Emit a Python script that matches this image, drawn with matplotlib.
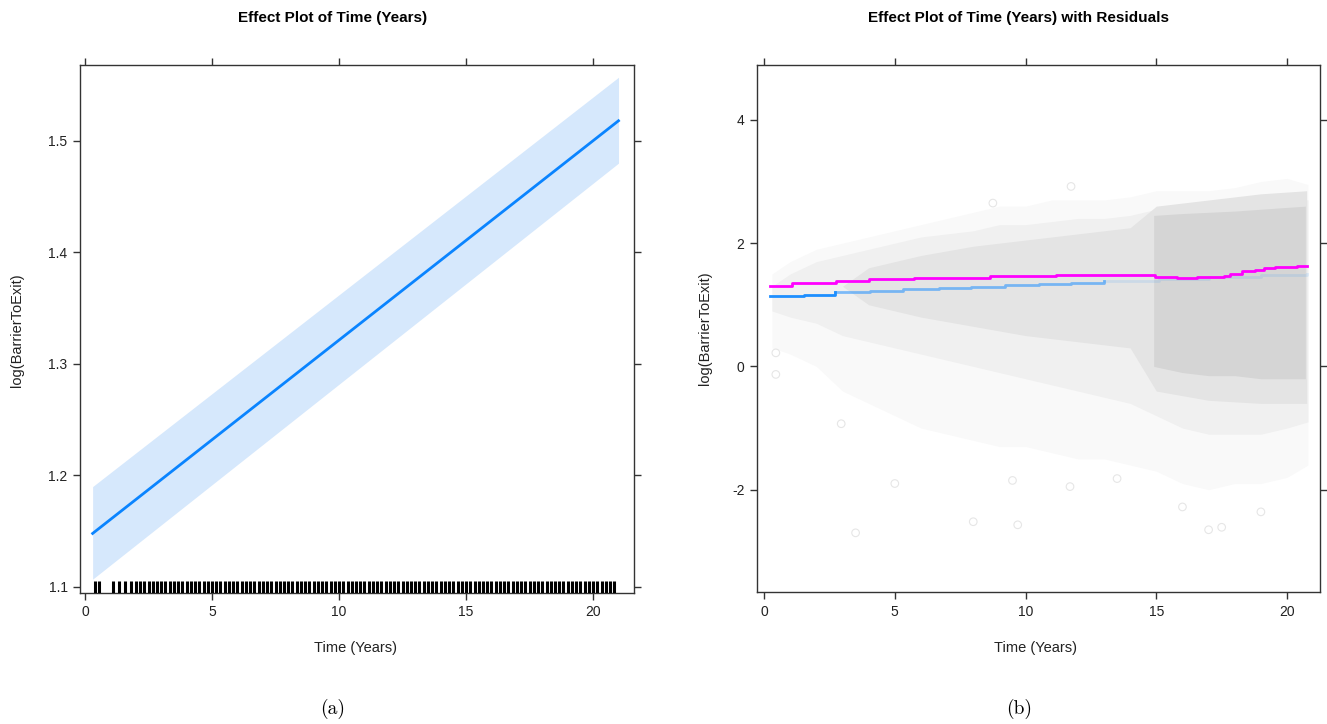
import numpy as np
import matplotlib
matplotlib.use('Agg')
import matplotlib.pyplot as plt
import matplotlib.ticker as tic

plt.rcParams['font.family'] = ['Liberation Sans', 'DejaVu Sans']
plt.rcParams['axes.unicode_minus'] = False

# panel (a): effect line with confidence band
eff_t = [0.3, 21.0]
eff_fit = [1.148, 1.518]
eff_lo = [1.107, 1.480]
eff_hi = [1.190, 1.557]
rug_early = [0.41, 0.57, 1.09, 1.33, 1.57, 1.81]
rug_grid = np.arange(2.0, 20.98, 1 / 6)  # observation times (bi-monthly grid)
rug_times = list(rug_early) + list(rug_grid)

# panel (b): residual cloud envelopes
cloud_t = [0.3, 1, 2, 3, 4, 5, 6, 7, 8, 9, 10, 11, 12, 13, 14, 15, 16, 17, 18, 19, 20, 20.8]
outer_hi = [1.5, 1.7, 1.9, 2.0, 2.1, 2.2, 2.3, 2.4, 2.5, 2.6, 2.6, 2.7, 2.7, 2.7, 2.75, 2.85, 2.85, 2.85, 2.9, 3.0, 3.05, 2.95]
outer_lo = [0.3, 0.2, 0.0, -0.4, -0.6, -0.8, -1.0, -1.1, -1.2, -1.3, -1.3, -1.4, -1.5, -1.5, -1.6, -1.7, -1.9, -2.0, -1.9, -1.9, -1.8, -1.6]
mid_hi = [1.3, 1.5, 1.7, 1.8, 1.9, 2.0, 2.1, 2.15, 2.2, 2.3, 2.3, 2.35, 2.4, 2.4, 2.45, 2.55, 2.6, 2.6, 2.65, 2.7, 2.75, 2.7]
mid_lo = [0.9, 0.8, 0.7, 0.5, 0.4, 0.3, 0.2, 0.1, 0.0, -0.1, -0.2, -0.3, -0.4, -0.5, -0.6, -0.8, -1.0, -1.1, -1.1, -1.1, -1.0, -0.9]
inner_t = [3, 4, 6, 8, 10, 12, 14, 15, 17, 19, 20.75]
inner_hi = [1.3, 1.6, 1.8, 1.95, 2.05, 2.15, 2.25, 2.6, 2.7, 2.8, 2.85]
inner_lo = [1.3, 1.0, 0.8, 0.65, 0.5, 0.4, 0.3, -0.4, -0.55, -0.6, -0.6]
core_t = [14.9, 16, 17, 18, 19, 20, 20.7]
core_hi = [2.45, 2.48, 2.5, 2.52, 2.55, 2.58, 2.6]
core_lo = [0.0, -0.1, -0.15, -0.15, -0.2, -0.2, -0.2]
out_t = [3.5, 5.0, 8.0, 9.7, 9.5, 2.95, 0.45, 0.45, 17.0, 17.5, 19.0, 16.0, 11.7, 13.5, 11.74, 8.75]
out_v = [-2.70, -1.9, -2.52, -2.57, -1.85, -0.93, -0.13, 0.22, -2.65, -2.61, -2.36, -2.28, -1.95, -1.82, 2.92, 2.65]

# smoother (magenta) and fitted effect (blue), both step-like
smooth_t = [0.24, 1.07, 2.77, 4.02, 5.75, 8.63, 11.17, 14.95, 15.8, 16.55, 17.57, 17.83, 18.27, 18.78, 19.1, 19.55, 20.38, 20.77]
smooth_v = [1.30, 1.36, 1.39, 1.41, 1.44, 1.47, 1.485, 1.45, 1.43, 1.45, 1.47, 1.507, 1.55, 1.572, 1.59, 1.615, 1.626, 1.626]
fit_t = [0.24, 1.52, 2.73, 4.07, 5.3, 6.7, 7.9, 9.2, 10.5, 11.75, 13.0, 15.1, 17.0, 19.0, 20.77]
fit_v = [1.14, 1.166, 1.20, 1.23, 1.25, 1.27, 1.295, 1.317, 1.338, 1.36, 1.39, 1.42, 1.45, 1.48, 1.507]

W, H = 1327, 724
fig = plt.figure(figsize=(W / 100, H / 100), dpi=100)
ax1 = fig.add_axes([80 / W, 1 - 593 / H, 554 / W, 528 / H])
ax2 = fig.add_axes([757 / W, 1 - 592 / H, 563 / W, 527 / H])

def style(ax):
    for s in ax.spines.values():
        s.set_color('#333333')
        s.set_linewidth(1.0)
    ax.tick_params(direction='out', length=5, width=1, color='#333333',
                   top=True, right=True, labelsize=10, labelcolor='#222222', pad=4)

# ---- panel a
ax1.fill_between(eff_t, eff_lo, eff_hi, color='#d6e8fc', lw=0, zorder=1)
ax1.plot(eff_t, eff_fit, color='#0a84ff', lw=2, zorder=2)
ax1.vlines(rug_times, 1.0946, 1.1055, color='black', lw=2.2, zorder=3)
ax1.set_xlim(-0.197, 21.61)
ax1.set_ylim(1.0946, 1.568)
ax1.xaxis.set_major_locator(tic.MultipleLocator(5))
ax1.set_yticks([1.1, 1.2, 1.3, 1.4, 1.5])
ax1.set_yticklabels(['1.1', '1.2', '1.3', '1.4', '1.5'])
style(ax1)

# ---- panel b
ax2.fill_between(cloud_t, outer_lo, outer_hi, color='#f9f9f9', lw=0, zorder=1)
ax2.fill_between(cloud_t, mid_lo, mid_hi, color='#f0f0f0', lw=0, zorder=2)
ax2.fill_between(inner_t, inner_lo, inner_hi, color='#e4e4e4', lw=0, zorder=2)
ax2.fill_between(core_t, core_lo, core_hi, color='#d5d5d5', lw=0, zorder=3)
ax2.scatter(out_t, out_v, s=30, facecolors='none', edgecolors='#e6e6e6', lw=0.8, zorder=3)
ft = np.array(fit_t)
fv = np.array(fit_v)
ax2.plot(ft[ft <= 3], fv[ft <= 3], color='#1e8fff', lw=2, drawstyle='steps-post', zorder=4)
sel = (ft >= 2.73) & (ft <= 13.0)
ax2.plot(ft[sel], fv[sel], color='#1e8fff', lw=2, alpha=0.55, drawstyle='steps-post', zorder=4)
ax2.plot(ft[ft >= 13.0], fv[ft >= 13.0], color='#1e8fff', lw=2, alpha=0.12, drawstyle='steps-post', zorder=4)
ax2.plot(smooth_t, smooth_v, color='#ff00ff', lw=2, drawstyle='steps-post', zorder=5)
ax2.set_xlim(-0.27, 21.26)
ax2.set_ylim(-3.66, 4.89)
ax2.xaxis.set_major_locator(tic.MultipleLocator(5))
ax2.set_yticks([-2, 0, 2, 4])
style(ax2)

for ax, cx in ((ax1, 355 / W), (ax2, 1036 / W)):
    fig.text(cx, 1 - 648 / H, 'Time (Years)', ha='center', va='center', fontsize=10.5, color='#222222')
fig.text(17 / W, 1 - 330 / H, 'log(BarrierToExit)', rotation=90, ha='center', va='center', fontsize=10.5, color='#222222')
fig.text(705 / W, 1 - 328 / H, 'log(BarrierToExit)', rotation=90, ha='center', va='center', fontsize=10.5, color='#222222')
fig.text(333 / W, 1 - 18 / H, 'Effect Plot of Time (Years)', ha='center', va='center', fontsize=11, fontweight='bold')
fig.text(1018 / W, 1 - 18 / H, 'Effect Plot of Time (Years) with Residuals', ha='center', va='center', fontsize=11, fontweight='bold')
fig.text(333 / W, 1 - 709 / H, '(a)', ha='center', va='center', fontsize=14, family='cmr10')
fig.text(1019 / W, 1 - 709 / H, '(b)', ha='center', va='center', fontsize=14, family='cmr10')

fig.savefig('out.png', dpi=100)
